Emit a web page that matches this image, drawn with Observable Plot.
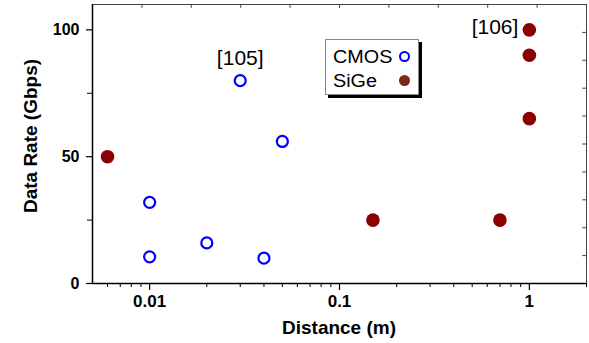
<!DOCTYPE html>
<html>
<head>
<meta charset="utf-8">
<script src="https://cdn.jsdelivr.net/npm/d3@7"></script>
<script src="https://cdn.jsdelivr.net/npm/@observablehq/plot@0.6"></script>
<style>
  html, body { margin: 0; padding: 0; background: #fff; }
  #wrap { position: relative; width: 589px; height: 343px; font-family: "Liberation Sans", Arial, sans-serif; }
  #legend { position: absolute; left: 325px; top: 39px; width: 94px; height: 56px; border: 1px solid #888; background: #fff; box-shadow: 3px 3px 0 #000; box-sizing: border-box; }
  .li { position: absolute; left: 7px; font-size: 18px; line-height: 18px; color: #000; transform: scaleX(1.1); transform-origin: left center; }
  .mk { position: absolute; left: 73px; width: 11px; height: 11px; border-radius: 50%; box-sizing: border-box; }
</style>
</head>
<body>
<div id="wrap"></div>
<script>
const cmosDist = [0.01, 0.01, 0.02, 0.03, 0.04, 0.05];
const cmosRate = [32, 10.5, 16, 80, 10, 56];
const sigeDist = [0.006, 0.15, 0.7, 1, 1, 1];
const sigeRate = [50, 25, 25, 100, 90, 65];
const xTicks = [0.01, 0.1, 1];
const xTickLabels = ["0.01", "0.1", "1"];
const xMinor = [0.006, 0.007, 0.008, 0.009, 0.02, 0.03, 0.04, 0.05, 0.06, 0.07, 0.08, 0.09, 0.2, 0.3, 0.4, 0.5, 0.6, 0.7, 0.8, 0.9, 2];
const yTicks = [0, 50, 100];
const yMinor = [25, 75];
const notes = [{x: 0.03, y: 80, label: "[105]", side: "top"}, {x: 1, y: 100, label: "[106]", side: "left"}];

const cmos = cmosDist.map((d, i) => ({x: d, y: cmosRate[i]}));
const sige = sigeDist.map((d, i) => ({x: d, y: sigeRate[i]}));
const xDomain = [0.005, 2];
const yDomain = [0, 110];
// mirrored inner ticks on top/right dividing the frame into 10 equal parts
const topTicks = d3.range(1, 10).map(k => xDomain[0] * Math.pow(xDomain[1] / xDomain[0], k / 10));
const rightTicks = d3.range(1, 10).map(k => yDomain[1] * k / 10);

const chart = Plot.plot({
  width: 589,
  height: 343,
  marginLeft: 92,
  marginRight: 3,
  marginTop: 4,
  marginBottom: 60,
  style: {fontFamily: "'Liberation Sans', Arial, sans-serif", background: "#fff"},
  x: {type: "log", domain: xDomain},
  y: {domain: yDomain},
  marks: [
    Plot.frame({stroke: "#444", strokeWidth: 1}),
    Plot.ruleX(topTicks, {x: d => d, y1: 110, y2: 108.5, stroke: "#444"}),
    Plot.ruleY(rightTicks, {y: d => d, x1: 2, x2: 1.91, stroke: "#444"}),
    Plot.axisX({ticks: xMinor, tickSize: 4, text: null, label: null, strokeWidth: 1}),
    Plot.axisX({ticks: xTicks, tickSize: 7, tickPadding: 4, tickFormat: (d) => xTickLabels[xTicks.indexOf(d)], fontSize: 17, fontWeight: "bold", label: null, strokeWidth: 1.2, fill: "#000"}),
    Plot.axisY({ticks: yMinor, tickSize: 5, text: null, label: null}),
    Plot.axisY({ticks: yTicks, tickSize: 6, tickPadding: 7, fontSize: 16, fontWeight: "bold", label: null, strokeWidth: 1.2, fill: "#000"}),
    Plot.ruleX([xDomain[0]], {stroke: "#000", strokeWidth: 1.5}),
    Plot.ruleY([0], {stroke: "#000", strokeWidth: 1.5}),
    Plot.dot(cmos, {x: "x", y: "y", r: 5.5, stroke: "#0000ff", strokeWidth: 2.2, fill: "none"}),
    Plot.dot(sige, {x: "x", y: "y", r: 6.8, fill: "#8b0000", stroke: "none"}),
    Plot.text(notes.filter(d => d.side === "top"), {x: "x", y: "y", text: "label", dy: -22, fontSize: 21, fill: "#000"}),
    Plot.text(notes.filter(d => d.side === "left"), {x: "x", y: "y", text: "label", dx: -11, dy: -3, textAnchor: "end", fontSize: 21, fill: "#000"})
  ]
});

const wrap = document.getElementById("wrap");
wrap.appendChild(chart);

// axis titles
const svg = d3.select(chart);
svg.append("text").attr("x", 339).attr("y", 334).attr("text-anchor", "middle")
  .attr("font-size", 19).attr("font-weight", "bold").attr("fill", "#000").text("Distance (m)");
svg.append("text").attr("transform", "translate(37,136) rotate(-90)").attr("text-anchor", "middle")
  .attr("font-size", 19).attr("font-weight", "bold").attr("fill", "#000").text("Data Rate (Gbps)");

const legend = document.createElement("div");
legend.id = "legend";
legend.innerHTML = `
  <div class="li" style="top:8px">CMOS</div>
  <div class="mk" style="top:11px;border:2px solid #0000ff;background:#fff"></div>
  <div class="li" style="top:32px">SiGe</div>
  <div class="mk" style="top:35px;background:#7b2a18"></div>`;
wrap.appendChild(legend);
</script>
</body>
</html>
